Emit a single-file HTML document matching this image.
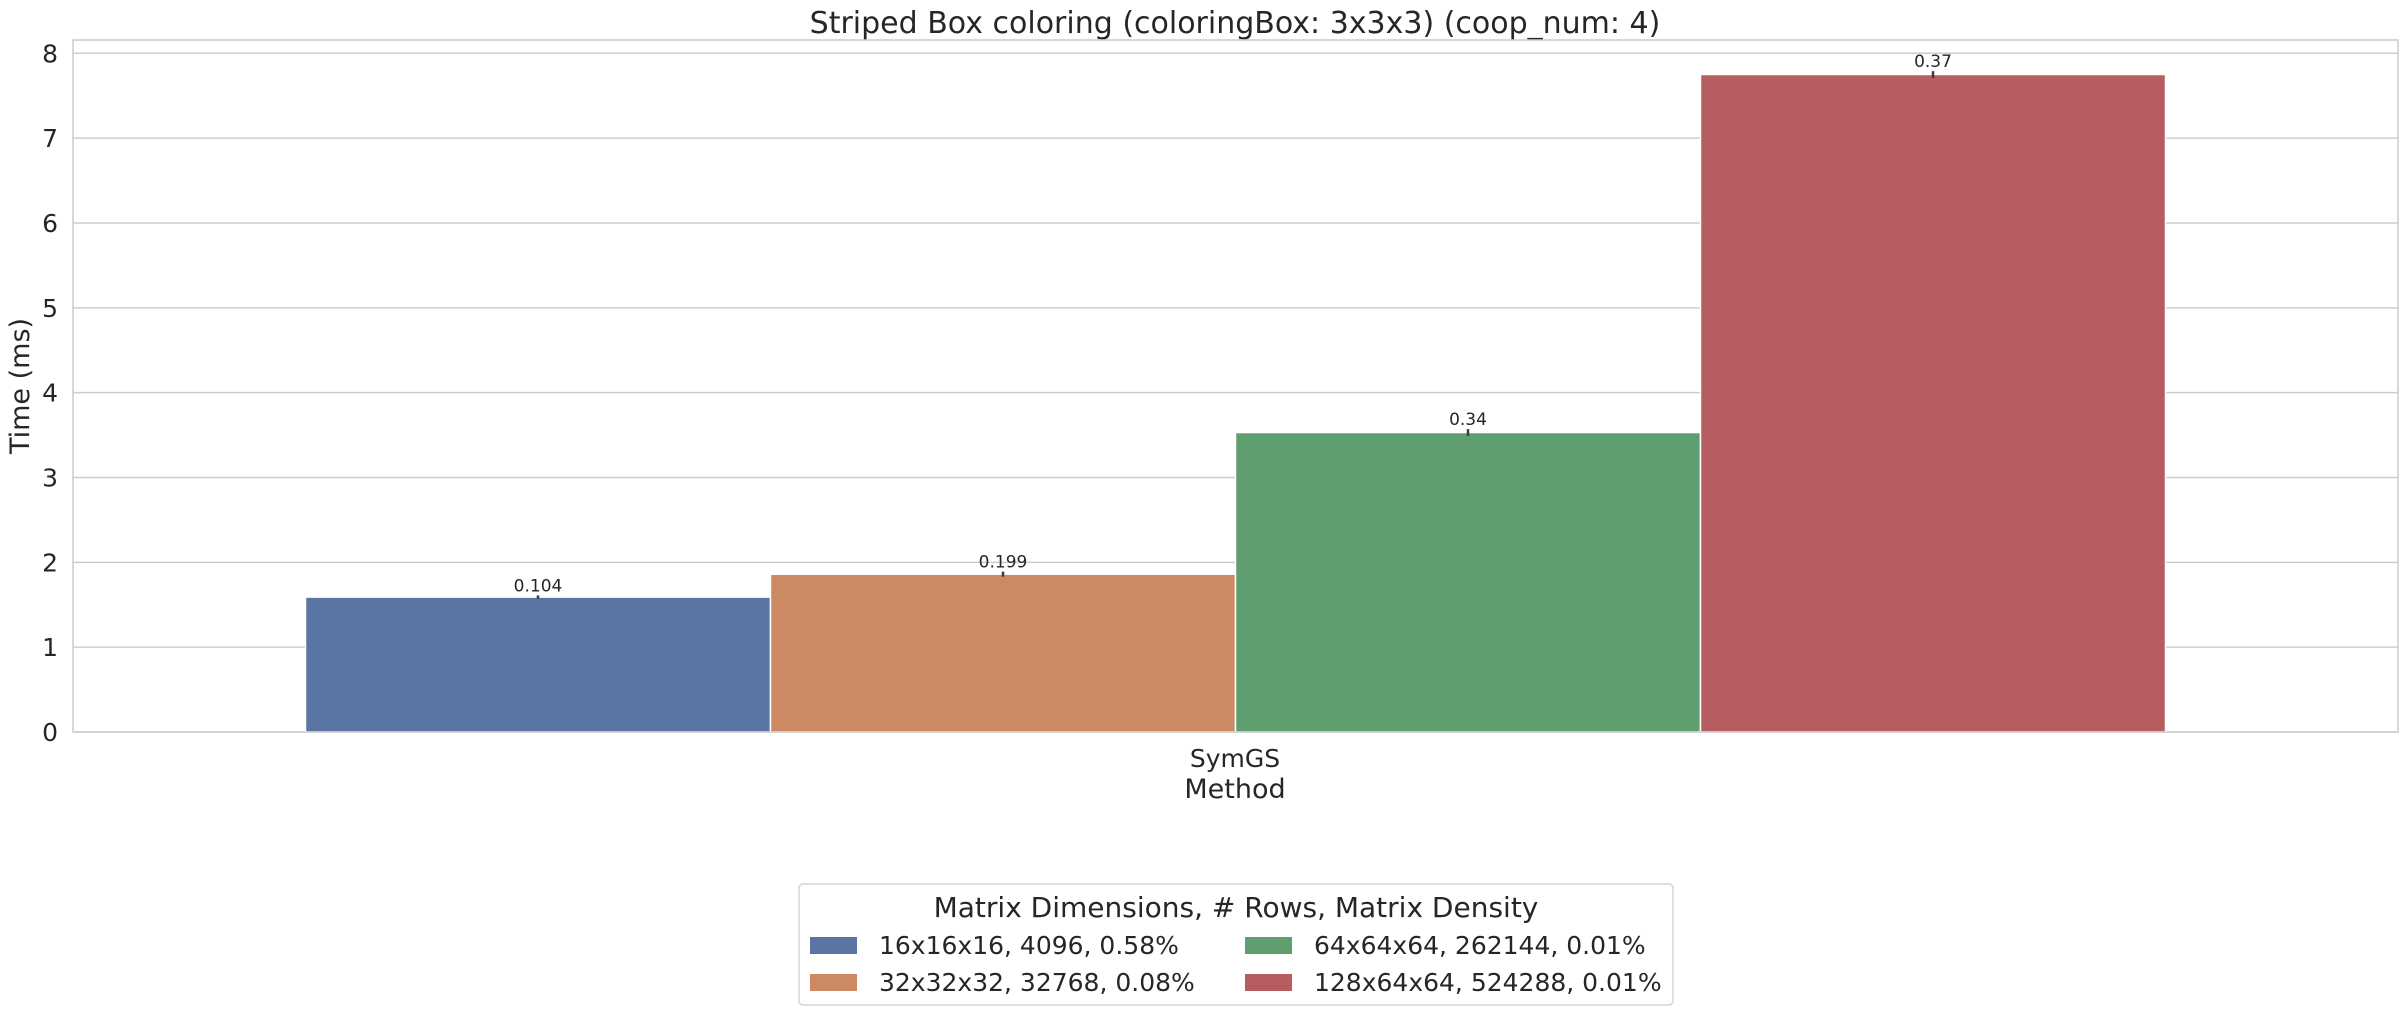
<!DOCTYPE html>
<html><head><meta charset="utf-8"><style>
html,body{margin:0;padding:0;background:#fff;}
svg{display:block;font-family:"DejaVu Sans","Liberation Sans",sans-serif;}
</style></head><body>
<svg id="chart" width="2407" height="1015" viewBox="0 0 2407 1015">
<text x="1235" y="33" font-size="30" fill="#262626" text-anchor="middle">Striped Box coloring (coloringBox: 3x3x3) (coop_num: 4)</text>
<g id="grid"></g>
<g id="bars"></g>
<rect x="73" y="40" width="2325" height="692" fill="none" stroke="#cccccc" stroke-width="1.5"/>
<g id="yticks"></g>
<text x="1235" y="767" font-size="25" fill="#262626" text-anchor="middle">SymGS</text>
<text x="1235" y="798" font-size="27" fill="#262626" text-anchor="middle">Method</text>
<text transform="translate(29,386) rotate(-90)" font-size="27" fill="#262626" text-anchor="middle">Time (ms)</text>
<g>
<rect x="799" y="884" width="874" height="121" rx="4" fill="#fff" stroke="#d6d6d6" stroke-width="1.5"/>
<text x="1236" y="917" font-size="28" fill="#262626" text-anchor="middle">Matrix Dimensions, # Rows, Matrix Density</text>
<g id="legend-entries"></g>
</g>
</svg>
<script>
const categories = ["SymGS"];
const seriesNames = ["16x16x16, 4096, 0.58%","32x32x32, 32768, 0.08%","64x64x64, 262144, 0.01%","128x64x64, 524288, 0.01%"];
const seriesValues = [1.59, 1.86, 3.53, 7.75];
const errorValues = [0.02, 0.03, 0.04, 0.04];
const barLabels = ["0.104","0.199","0.34","0.37"];
const yTicks = [0,1,2,3,4,5,6,7,8];
const colors = ["#5975a4","#cc8963","#5f9e6e","#b55d60"];

const NS="http://www.w3.org/2000/svg";
const X0=73, X1=2398, Y0=732, YTOP=53.3, YMAXT=8;
function yScale(v){return Y0-(v/YMAXT)*(Y0-YTOP);}
const bandW=(X1-X0)/categories.length;
function bandCenter(i){return X0+bandW*(i+0.5);}
const groupW=bandW*0.8, barW=groupW/seriesNames.length;
function mk(tag,attrs,parent){const e=document.createElementNS(NS,tag);for(const k in attrs)e.setAttribute(k,attrs[k]);parent.appendChild(e);return e;}
const grid=document.getElementById('grid'), yt=document.getElementById('yticks'), bars=document.getElementById('bars'), leg=document.getElementById('legend-entries');
yTicks.forEach(t=>{
  const y=yScale(t);
  const l=mk('line',{x1:X0,x2:X1,y1:y,y2:y,stroke:'#cccccc','stroke-width':1.5},grid);
  
  
  const tx=mk('text',{x:58,y:y+9,'font-size':25,fill:'#262626','text-anchor':'end'},yt);
  tx.textContent=String(t);
  
  
});
categories.forEach((c,ci)=>{
  const left=bandCenter(ci)-groupW/2;
  seriesValues.forEach((v,si)=>{
    const x=left+si*barW, y=yScale(v);
    const r=mk('rect',{x:x,y:y,width:barW,height:Y0-y,fill:colors[si],stroke:'#ffffff','stroke-width':1.5},bars);
    
    
    const cx=x+barW/2;
    const e=mk('line',{x1:cx,x2:cx,y1:yScale(v+errorValues[si]),y2:yScale(v-errorValues[si]),stroke:'#3d3d3d','stroke-width':2.5},bars);
    
    
    const t=mk('text',{x:cx,y:yScale(v+errorValues[si])-4,'font-size':17,fill:'#262626','text-anchor':'middle'},bars);
    t.textContent=barLabels[si];
    
    
  });
});
seriesNames.forEach((n,i)=>{
  const col=Math.floor(i/2), row=i%2;
  const px=col?1245:810, tx=col?1314:879, py=row?974:937;
  const p=mk('rect',{x:px,y:py,width:47,height:17,fill:colors[i]},leg);
  
  
  const t=mk('text',{x:tx,y:py+17,'font-size':25,fill:'#262626'},leg);
  t.textContent=n;
  
  
});
</script>
</body></html>
